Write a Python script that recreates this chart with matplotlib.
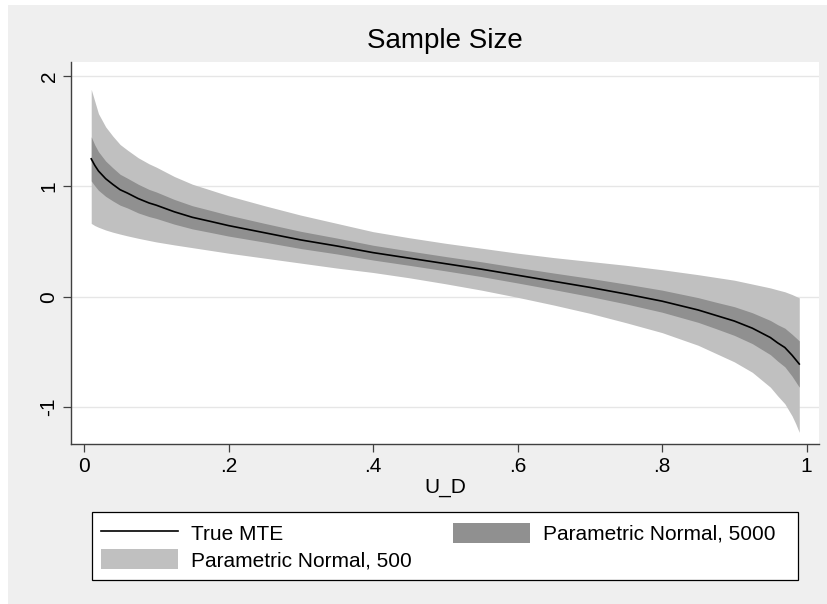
"""Sample Size: true MTE with parametric-normal bands for n=5000 and n=500."""

import matplotlib
matplotlib.use("Agg")
import matplotlib.pyplot as plt
from matplotlib.patches import Patch, Rectangle
from matplotlib.lines import Line2D

plt.rcParams["font.family"] = ["Liberation Sans", "DejaVu Sans"]

# values
u_d = [0.01, 0.015, 0.02, 0.03, 0.04, 0.05, 0.06, 0.075, 0.09, 0.10, 0.125,
       0.15, 0.175, 0.20, 0.25, 0.30, 0.35, 0.40, 0.45, 0.50, 0.55, 0.60,
       0.65, 0.70, 0.75, 0.80, 0.85, 0.875, 0.90, 0.925, 0.95, 0.96, 0.97,
       0.98, 0.985, 0.99]
true_mte = [1.25, 1.19, 1.14, 1.07, 1.018, 0.97, 0.94, 0.89, 0.85, 0.83, 0.77,
            0.72, 0.683, 0.645, 0.58, 0.515, 0.46, 0.40, 0.35, 0.30, 0.25, 0.195,
            0.14, 0.085, 0.025, -0.04, -0.12, -0.17, -0.22, -0.285, -0.37, -0.418, -0.46,
            -0.53, -0.57, -0.61]
n5000_hi = [1.45, 1.375, 1.315, 1.23, 1.168, 1.11, 1.075, 1.02, 0.973, 0.95, 0.882,
            0.825, 0.783, 0.74, 0.665, 0.593, 0.532, 0.467, 0.415, 0.365, 0.317, 0.265,
            0.215, 0.167, 0.115, 0.06, -0.008, -0.05, -0.09, -0.145, -0.215, -0.253, -0.285,
            -0.34, -0.37, -0.40]
n5000_lo = [1.05, 1.005, 0.965, 0.91, 0.868, 0.83, 0.805, 0.76, 0.727, 0.71, 0.658,
            0.615, 0.583, 0.55, 0.495, 0.437, 0.388, 0.333, 0.285, 0.235, 0.183, 0.125,
            0.065, 0.003, -0.065, -0.14, -0.232, -0.29, -0.35, -0.425, -0.525, -0.583, -0.635,
            -0.72, -0.77, -0.82]
n500_hi = [1.88, 1.77, 1.66, 1.54, 1.455, 1.38, 1.33, 1.26, 1.205, 1.175, 1.09,
           1.02, 0.968, 0.915, 0.825, 0.74, 0.665, 0.59, 0.535, 0.485, 0.44, 0.395,
           0.355, 0.32, 0.285, 0.245, 0.20, 0.175, 0.15, 0.115, 0.08, 0.062, 0.045,
           0.02, 0.005, -0.01]
n500_lo = [0.665, 0.645, 0.63, 0.605, 0.585, 0.568, 0.552, 0.53, 0.51, 0.497, 0.47,
           0.445, 0.42, 0.395, 0.35, 0.305, 0.26, 0.22, 0.172, 0.118, 0.06, -0.005,
           -0.075, -0.15, -0.235, -0.325, -0.44, -0.515, -0.59, -0.685, -0.82, -0.898, -0.97,
           -1.08, -1.15, -1.23]

xticks = [0, 0.2, 0.4, 0.6, 0.8, 1.0]
xticklabels = ["0", ".2", ".4", ".6", ".8", "1"]
yticks = [-1, 0, 1, 2]

BG = "#efefef"
LIGHT = "#c0c0c0"
DARK = "#909090"
AXC = "#404040"

fig = plt.figure(figsize=(8.27, 6.04), dpi=100, facecolor="white")
fig.patches.append(Rectangle((8 / 827, 0), 1, 1 - 5 / 604, transform=fig.transFigure,
                             facecolor=BG, edgecolor="none", zorder=-10))

ax = fig.add_axes([71 / 827, 1 - 444 / 604, 748 / 827, 382 / 604])
ax.set_facecolor("white")

ax.fill_between(u_d, n500_lo, n500_hi, color=LIGHT, lw=0, zorder=2)
ax.fill_between(u_d, n5000_lo, n5000_hi, color=DARK, lw=0, zorder=3)
ax.plot(u_d, true_mte, color="black", lw=1.2, zorder=4)

ax.set_xlim(-0.018, 1.0173)
ax.set_ylim(-1.335, 2.128)
ax.set_xticks(xticks)
ax.set_xticklabels(xticklabels)
ax.set_yticks(yticks)
ax.set_yticklabels([str(v) for v in yticks], rotation=90, va="center")
ax.grid(axis="y", color="#e6e6e6", lw=1.0, zorder=0)
ax.set_axisbelow(True)

for side in ("top", "right"):
    ax.spines[side].set_visible(False)
for side in ("left", "bottom"):
    ax.spines[side].set_color(AXC)
    ax.spines[side].set_linewidth(1.0)
ax.tick_params(colors=AXC, labelcolor="black", length=5.5, width=0.9,
               labelsize=15, pad=3.5)

ax.set_xlabel("U_D", fontsize=15, labelpad=2)
ax.set_title("Sample Size", fontsize=20, pad=10)

# legend box drawn separately so its size matches the reference
fig.patches.append(Rectangle((92 / 827, 1 - 580 / 604), 706 / 827, 68 / 604,
                             transform=fig.transFigure, facecolor="white",
                             edgecolor="black", lw=0.9, zorder=-5))
handles = [Line2D([], [], color="black", lw=1.2),
           Patch(facecolor=LIGHT, edgecolor="none"),
           Patch(facecolor=DARK, edgecolor="none")]
labels = ["True MTE", "Parametric Normal, 500", "Parametric Normal, 5000"]
fig.legend(handles, labels, ncol=2, loc="center left",
           bbox_to_anchor=(101 / 827, 1 - 546.5 / 604),
           fontsize=15, frameon=False, handlelength=3.7, handleheight=1.1,
           borderpad=0, labelspacing=0.25, handletextpad=0.6,
           columnspacing=2.0, borderaxespad=0)

fig.savefig("out.png", dpi=100, facecolor=fig.get_facecolor())
